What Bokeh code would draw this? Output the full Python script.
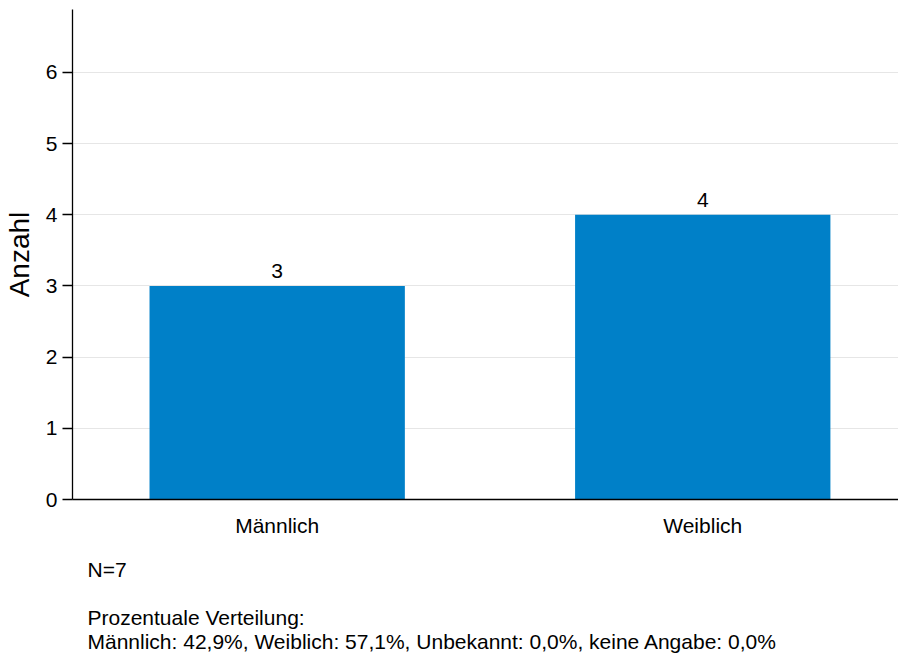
from bokeh.plotting import figure
from bokeh.models import Range1d, FixedTicker, LabelSet, ColumnDataSource, Title
from bokeh.core.properties import value
from bokeh.embed import file_html
from bokeh.resources import INLINE

# ---- data ----
categories = ["Männlich", "Weiblich"]
counts = [3, 4]
n_total = 7
pct_categories = ["Männlich", "Weiblich", "Unbekannt", "keine Angabe"]
pct_values = [42.9, 57.1, 0.0, 0.0]
y_ticks = [0, 1, 2, 3, 4, 5, 6]

FONT = "Liberation Sans"
BAR_COLOR = "#0080C8"

W, H = 898, 653
BL, BT, BB = 71, 9, 153
X0, X1 = -0.481, 1.46
Y0, Y1 = 0, 6.883

x_pos = list(range(len(categories)))
src = ColumnDataSource(dict(x=x_pos, top=counts, label=[str(c) for c in counts]))

p = figure(width=W, height=H, output_backend="svg", toolbar_location=None,
           x_range=Range1d(X0, X1), y_range=Range1d(Y0, Y1),
           min_border_left=BL, min_border_right=0, min_border_top=BT,
           min_border_bottom=BB)
p.outline_line_color = None
p.background_fill_color = "white"
p.border_fill_color = "white"

p.vbar(x="x", top="top", bottom=0, width=0.6, source=src,
       fill_color=BAR_COLOR, line_color=None)

labels = LabelSet(x="x", y="top", text="label", source=src, text_align="center",
                  text_baseline="alphabetic", y_offset=8,
                  text_font=value(FONT), text_font_size=value("21px"),
                  text_color=value("black"))
p.add_layout(labels)

# axes
p.xaxis.ticker = FixedTicker(ticks=x_pos)
p.xaxis.major_label_overrides = {i: c for i, c in zip(x_pos, categories)}
p.xaxis.major_tick_out = 0
p.xaxis.major_tick_in = 0
p.xaxis.minor_tick_line_color = None
p.xaxis.axis_line_color = "black"
p.xaxis.axis_line_width = 1.3
p.xaxis.major_label_text_font = FONT
p.xaxis.major_label_text_font_size = "21px"
p.xaxis.major_label_text_color = "black"
p.xaxis.major_label_standoff = 14

p.yaxis.ticker = FixedTicker(ticks=y_ticks)
p.yaxis.major_tick_out = 10
p.yaxis.major_tick_in = 0
p.yaxis.major_tick_line_width = 1.3
p.yaxis.minor_tick_line_color = None
p.yaxis.axis_line_color = "black"
p.yaxis.axis_line_width = 1.3
p.yaxis.major_label_text_font = FONT
p.yaxis.major_label_text_font_size = "21px"
p.yaxis.major_label_text_color = "black"
p.yaxis.major_label_standoff = 5
p.yaxis.axis_label = "Anzahl"
p.yaxis.axis_label_text_font = FONT
p.yaxis.axis_label_text_font_size = "28px"
p.yaxis.axis_label_text_font_style = "normal"
p.yaxis.axis_label_text_color = "black"
p.yaxis.axis_label_standoff = 8

p.xgrid.grid_line_color = None
p.ygrid.ticker = FixedTicker(ticks=y_ticks)
p.ygrid.grid_line_color = "#e6e6e6"
p.ygrid.grid_line_width = 1

# spacing between x labels and footnote
p.add_layout(Title(text=" ", text_font_size="1px", standoff=14), "below")

# footnote text as one multi-line title below the x axis
pct_text = ", ".join(f"{c}: {v:.1f}%".replace(".", ",") for c, v in zip(pct_categories, pct_values))
foot_text = f"N={n_total}\n\nProzentuale Verteilung:\n{pct_text}"
p.add_layout(Title(text=foot_text, align="left", offset=15, standoff=0,
                   text_font=FONT, text_font_size="21px", text_font_style="normal",
                   text_line_height=1.05, text_color="black"), "below")

open("out.html", "w").write(file_html(p, INLINE))
